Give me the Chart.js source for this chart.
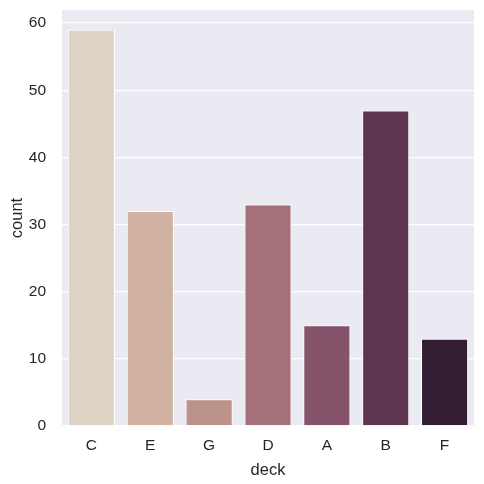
<!DOCTYPE html>
<html><head><meta charset="utf-8">
<script src="https://cdn.jsdelivr.net/npm/chart.js@4/dist/chart.umd.min.js"></script>
<style>html,body{margin:0;padding:0;background:#fff}#wrap{width:484px;height:484px}</style>
</head><body><div id="wrap"><canvas id="c" width="484" height="484"></canvas></div>
<script>
const categories = ["C","E","G","D","A","B","F"];
const counts = [59, 32, 4, 33, 15, 47, 13];
const barColors = ["#e0d4c6","#d1b1a2","#bd928a","#a5727b","#85546a","#5e3652","#341e33"];
const yTicks = [0,10,20,30,40,50,60];
const xTitle = "deck";
const yTitle = "count";

const bgPlugin = {
  id: 'bg',
  beforeDraw(chart) {
    const {ctx, chartArea: a} = chart;
    ctx.save();
    ctx.fillStyle = '#eaeaf2';
    ctx.fillRect(a.left, a.top, a.right - a.left, a.bottom - a.top);
    ctx.restore();
  }
};

const font = "'Liberation Sans', Arial, sans-serif";
new Chart(document.getElementById('c'), {
  type: 'bar',
  data: {
    labels: categories,
    datasets: [{
      data: counts,
      backgroundColor: barColors,
      borderColor: '#ffffff',
      borderWidth: 1,
      barPercentage: 0.8,
      categoryPercentage: 1.0
    }]
  },
  options: {
    responsive: false,
    animation: false,
    devicePixelRatio: 1,
    layout: { padding: { top: 10, right: 10, left: 0, bottom: 0 } },
    plugins: { legend: { display: false }, tooltip: { enabled: false } },
    scales: {
      x: {
        grid: { display: false, drawTicks: false },
        border: { display: false },
        ticks: { color: '#262626', font: { family: font, size: 15.5 }, padding: 10 },
        title: { display: true, text: xTitle, color: '#262626', font: { family: font, size: 16.5 }, padding: { top: 1 } },
        afterFit(s) { s.height = 58; s.paddingLeft = 0; s.paddingRight = 0; }
      },
      y: {
        min: 0, max: 61.95,
        afterBuildTicks(s) { s.ticks = yTicks.map(v => ({ value: v })); },
        grid: { color: '#ffffff', lineWidth: 1.3, drawTicks: false },
        border: { display: false },
        ticks: { color: '#262626', font: { family: font, size: 15.5 }, padding: 16 },
        title: { display: true, text: yTitle, color: '#262626', font: { family: font, size: 16.5 }, padding: { top: 8, bottom: 0 } },
        afterFit(s) { s.width = 62; s.paddingTop = 0; s.paddingBottom = 0; }
      }
    }
  },
  plugins: [bgPlugin]
});
</script></body></html>
